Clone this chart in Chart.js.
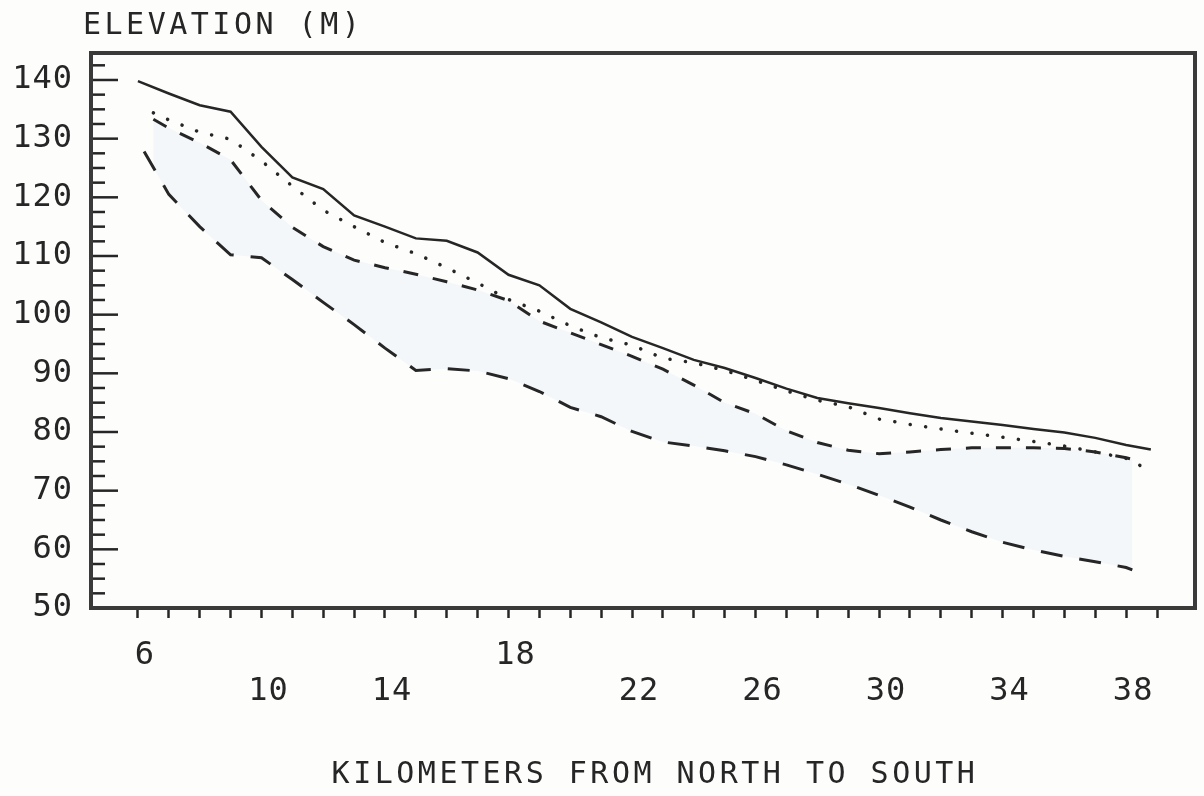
<!DOCTYPE html>
<html>
<head>
<meta charset="utf-8">
<title>Elevation profile</title>
<script src="https://cdn.jsdelivr.net/npm/chart.js@4.4.1/dist/chart.umd.min.js"></script>
<style>
  html, body { margin: 0; padding: 0; background: #fdfdfc; }
  #wrap { width: 1204px; height: 796px; }
</style>
</head>
<body>
<div id="wrap"><canvas id="profile"></canvas></div>
<script>
// elevations (m), by km from north to south
const solidKm    = [6, 7, 8, 9, 10, 11, 12, 13, 14, 15, 16, 17, 18, 19, 20, 21, 22, 23, 24, 25, 26, 27, 28, 29, 30, 31, 32, 33, 34, 35, 36, 37, 38, 38.8];
const solidElev  = [139.8, 137.7, 135.7, 134.6, 128.6, 123.4, 121.4, 116.9, 115.0, 113.0, 112.6, 110.6, 106.8, 105.0, 101.0, 98.7, 96.2, 94.3, 92.3, 90.9, 89.2, 87.4, 85.8, 84.9, 84.1, 83.2, 82.4, 81.8, 81.2, 80.5, 79.9, 79.0, 77.8, 77.0];

const dottedKm   = [6.5, 7, 8, 9, 10, 11, 12, 13, 14, 15, 16, 17, 18, 19, 20, 21, 22, 23, 24, 25, 26, 27, 28, 29, 30, 31, 32, 33, 34, 35, 36, 37, 38, 38.6];
const dottedElev = [134.4, 133.2, 131.1, 129.9, 126.2, 121.9, 117.8, 115.0, 112.3, 110.4, 108.0, 105.4, 102.6, 100.6, 98.1, 96.1, 94.8, 92.6, 91.8, 90.5, 88.8, 87.0, 85.4, 84.3, 82.2, 81.3, 80.5, 79.8, 79.1, 78.4, 77.6, 76.6, 75.5, 73.9];

const dashKm     = [6.5, 7, 8, 9, 10, 11, 12, 13, 14, 15, 16, 17, 18, 19, 20, 21, 22, 23, 24, 25, 26, 27, 28, 29, 30, 31, 32, 33, 34, 35, 36, 37, 38, 38.3];
const dashElev   = [133.3, 131.8, 129.3, 126.4, 119.5, 114.9, 111.6, 109.3, 108.0, 106.9, 105.6, 104.2, 102.4, 98.9, 96.9, 94.9, 92.9, 90.7, 88.0, 85.0, 83.1, 80.2, 78.2, 76.9, 76.3, 76.6, 77.0, 77.3, 77.3, 77.3, 77.2, 76.6, 75.6, 75.2];

const longKm     = [6.2, 7, 8, 9, 10, 11, 12, 13, 14, 15, 16, 17, 18, 19, 20, 21, 22, 23, 24, 25, 26, 27, 28, 29, 30, 31, 32, 33, 34, 35, 36, 37, 38, 38.2];
const longElev   = [127.8, 120.5, 115.0, 110.2, 109.7, 106.0, 102.1, 98.3, 94.3, 90.5, 90.8, 90.4, 89.1, 86.9, 84.2, 82.6, 80.1, 78.3, 77.6, 76.8, 75.8, 74.4, 72.8, 71.1, 69.2, 67.2, 65.0, 63.0, 61.2, 59.9, 58.8, 57.9, 56.9, 56.5];

// axis labelling, as printed (two staggered rows under the km axis)
const kmLabelsUpper = [6, 18];
const kmLabelsLower = [10, 14, 22, 26, 30, 34, 38];
const elevTicks = [50, 60, 70, 80, 90, 100, 110, 120, 130, 140];
const yTitle = 'ELEVATION (M)';
const xTitle = 'KILOMETERS FROM NORTH TO SOUTH';

const INK = '#262626';
const FONT = '"DejaVu Sans Mono", monospace';

// one tick mark per km along the bottom
const kmTicks = [];
for (let k = 6; k <= 39; k++) kmTicks.push(k);

const pts = (km, elev) => km.map((k, i) => ({ x: k, y: elev[i] }));

// frame, inward elevation ticks and the two axis titles (plotter lettering is widely spaced)
const plotterFrame = {
  id: 'plotterFrame',
  beforeDraw(chart) {
    chart.ctx.letterSpacing = '1px';
  },
  beforeDatasetsDraw(chart) {
    chart.ctx.letterSpacing = '0px';
  },
  afterDraw(chart) {
    const { ctx, chartArea: a, scales: { y } } = chart;
    ctx.save();
    ctx.strokeStyle = INK;
    ctx.lineWidth = 2.5;
    for (let v = 50; v <= 142.5; v += 2.5) {
      const py = y.getPixelForValue(v);
      const len = v % 10 === 0 ? 27 : 14;
      ctx.beginPath();
      ctx.moveTo(a.left, py);
      ctx.lineTo(a.left + len, py);
      ctx.stroke();
    }
    ctx.lineWidth = 4;
    ctx.strokeStyle = '#3a3a3a';
    ctx.strokeRect(a.left, a.top, a.right - a.left, a.bottom - a.top);

    ctx.letterSpacing = '3.5px';
    ctx.font = '30px ' + FONT;
    ctx.fillStyle = INK;
    ctx.textBaseline = 'middle';
    ctx.textAlign = 'left';
    ctx.fillText(yTitle, a.left - 8, 26);
    ctx.textAlign = 'center';
    ctx.fillText(xTitle, (a.left + a.right) / 2 + 12, 775);
    ctx.restore();
  }
};

new Chart(document.getElementById('profile'), {
  type: 'line',
  data: {
    datasets: [
      { label: 'solid', data: pts(solidKm, solidElev), borderColor: INK, borderWidth: 2.5, pointRadius: 0, fill: false },
      { label: 'dotted', data: pts(dottedKm, dottedElev), borderColor: INK, borderWidth: 3.5, borderDash: [0.1, 15.5], borderCapStyle: 'round', pointRadius: 0, fill: false },
      { label: 'dashed', data: pts(dashKm, dashElev), borderColor: INK, borderWidth: 3, borderDash: [15, 15], pointRadius: 0, fill: false },
      { label: 'long dash', data: pts(longKm, longElev), borderColor: INK, borderWidth: 3, borderDash: [22, 17], pointRadius: 0,
        fill: '-1', backgroundColor: 'rgba(190, 215, 240, 0.16)' }
    ]
  },
  options: {
    responsive: true,
    maintainAspectRatio: false,
    animation: false,
    layout: { padding: { top: 53, right: 9, left: 0, bottom: 0 } },
    plugins: { legend: { display: false }, tooltip: { enabled: false } },
    scales: {
      x: {
        type: 'linear',
        min: 4.48,
        max: 40.23,
        afterBuildTicks: s => { s.ticks = kmTicks.map(v => ({ value: v })); },
        afterFit: s => { s.height = 188; },
        grid: { drawOnChartArea: false, drawTicks: true, tickLength: 10, tickWidth: 2.5, tickColor: INK },
        border: { display: false },
        ticks: {
          autoSkip: false,
          maxRotation: 0,
          padding: 20,
          labelOffset: 7,
          color: INK,
          font: { family: FONT, size: 32, lineHeight: '36px' },
          callback: v => kmLabelsUpper.includes(v) ? String(v) : kmLabelsLower.includes(v) ? ['', String(v)] : ''
        }
      },
      y: {
        min: 50,
        max: 144.6,
        afterBuildTicks: s => { s.ticks = elevTicks.map(v => ({ value: v })); },
        afterFit: s => { s.width = 91; },
        grid: { drawOnChartArea: false, drawTicks: false },
        border: { display: false },
        ticks: {
          padding: 18,
          color: INK,
          font: { family: FONT, size: 32 }
        }
      }
    }
  },
  plugins: [plotterFrame]
});
</script>
</body>
</html>
